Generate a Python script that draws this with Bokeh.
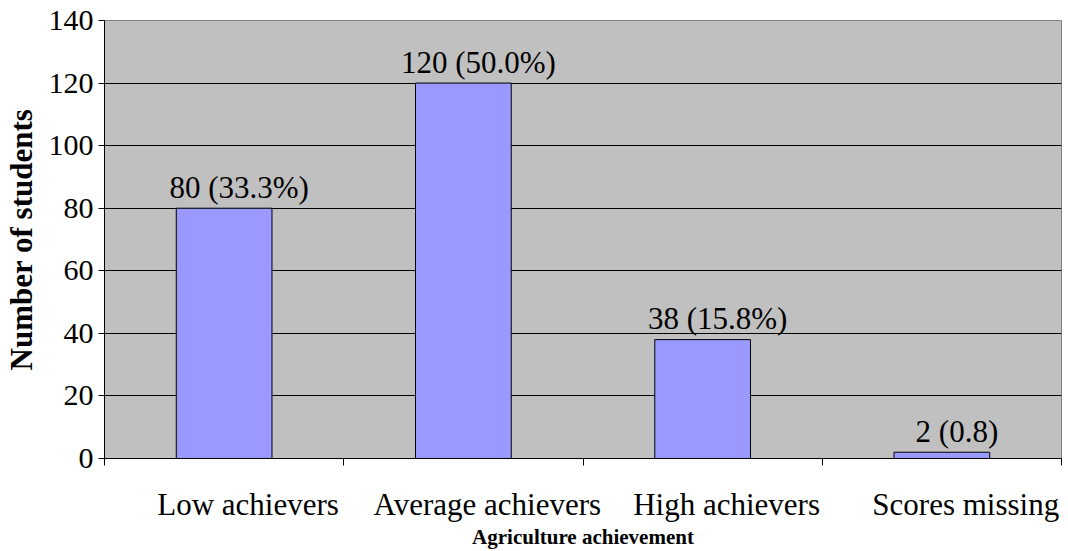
from bokeh.plotting import figure
from bokeh.models import FixedTicker, Range1d, ColumnDataSource
from bokeh.core.properties import value
from bokeh.embed import file_html
from bokeh.resources import INLINE

categories = ["Low achievers", "Average achievers", "High achievers", "Scores missing"]
counts = [80, 120, 38, 2]
bar_labels = ["80 (33.3%)", "120 (50.0%)", "38 (15.8%)", "2 (0.8)"]
y_ticks = [0, 20, 40, 60, 80, 100, 120, 140]
x_title = "Agriculture achievement"
y_title = "Number of students"

FONT = "Liberation Serif, Times New Roman, serif"
n = len(categories)
centers = [i + 0.5 for i in range(n)]
label_shift = 0.1  # category labels sit a little right of centre, as in the original
label_pos = [c + label_shift for c in centers]
boundaries = list(range(n + 1))

src = ColumnDataSource(dict(x=centers, top=counts, lab=bar_labels))

p = figure(width=1068, height=551,
           x_range=Range1d(0, n), y_range=Range1d(0, 140),
           output_backend="svg", toolbar_location=None,
           min_border_left=103, min_border_right=7,
           min_border_top=20, min_border_bottom=92)

p.background_fill_color = "#C0C0C0"
p.border_fill_color = "white"
p.outline_line_color = "#808080"
p.outline_line_width = 1

p.vbar(x="x", top="top", width=0.4, source=src,
       fill_color="#9999FF", line_color="black", line_width=1)

p.text(x="x", y="top", text="lab", source=src,
       text_font=value(FONT), text_font_size="31px", text_color="black",
       text_align="center", text_baseline="alphabetic",
       x_offset=15, y_offset=-21)

# x axis: tick marks on category boundaries, labels near the centres
xa = p.xaxis[0]
xa.ticker = FixedTicker(ticks=label_pos, minor_ticks=boundaries)
xa.major_label_overrides = {lp: c for lp, c in zip(label_pos, categories)}
xa.major_tick_line_color = None
xa.major_tick_out = 0
xa.major_tick_in = 0
xa.minor_tick_out = 7
xa.minor_tick_in = 0
xa.minor_tick_line_color = "black"
xa.axis_line_color = "black"
xa.major_label_text_font = FONT
xa.major_label_text_font_size = "31px"
xa.major_label_text_color = "black"
xa.major_label_standoff = 21
xa.axis_label = x_title
xa.axis_label_text_font = FONT
xa.axis_label_text_font_size = "21px"
xa.axis_label_text_font_style = "bold"
xa.axis_label_text_color = "black"
xa.axis_label_standoff = 0

ya = p.yaxis[0]
ya.ticker = FixedTicker(ticks=y_ticks)
ya.major_tick_out = 6
ya.major_tick_in = 0
ya.minor_tick_line_color = None
ya.major_tick_line_color = "black"
ya.axis_line_color = "black"
ya.major_label_text_font = FONT
ya.major_label_text_font_size = "30px"
ya.major_label_text_color = "black"
ya.major_label_standoff = 5
ya.axis_label = y_title
ya.axis_label_text_font = FONT
ya.axis_label_text_font_size = "31px"
ya.axis_label_text_font_style = "bold"
ya.axis_label_text_color = "black"
ya.axis_label_standoff = 7

p.xgrid.visible = False
p.ygrid.ticker = FixedTicker(ticks=y_ticks)
p.ygrid.grid_line_color = "black"
p.ygrid.grid_line_width = 1

open("out.html", "w").write(file_html(p, INLINE))
